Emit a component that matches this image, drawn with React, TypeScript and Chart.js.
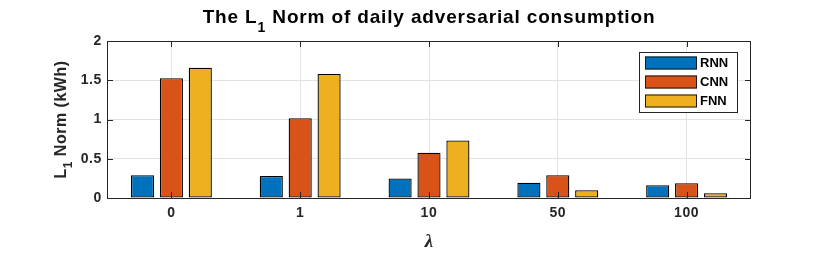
import React, { useEffect, useRef } from "react";
import { Chart, registerables } from "chart.js";

Chart.register(...registerables);

const categories = ["0", "1", "10", "50", "100"];
const seriesNames = ["RNN", "CNN", "FNN"];
const rnnValues = [0.29, 0.28, 0.25, 0.195, 0.162];
const cnnValues = [1.525, 1.015, 0.578, 0.289, 0.187];
const fnnValues = [1.66, 1.58, 0.734, 0.098, 0.06];
const seriesColors = ["#0072BD", "#D95319", "#EDB120"];
const yTickValues = [0, 0.5, 1, 1.5, 2];
const titleParts = ["The L", "1", " Norm of daily adversarial consumption"];
const yLabelParts = ["L", "1", " Norm (kWh)"];
const xLabel = "λ";

const AXIS = "#262626";
const FONT = '"Liberation Sans", Arial, Helvetica, sans-serif';

function drawSubText(
  ctx: CanvasRenderingContext2D,
  parts: string[],
  cx: number,
  baseY: number,
  mainFont: string,
  subFont: string,
  subDrop: number
) {
  ctx.font = mainFont;
  const w0 = ctx.measureText(parts[0]).width;
  const w2 = ctx.measureText(parts[2]).width;
  ctx.font = subFont;
  const w1 = ctx.measureText(parts[1]).width;
  const total = w0 + w1 + w2;
  let x = cx - total / 2;
  ctx.textAlign = "left";
  ctx.textBaseline = "alphabetic";
  ctx.font = mainFont;
  ctx.fillText(parts[0], x, baseY);
  x += w0;
  ctx.font = subFont;
  ctx.fillText(parts[1], x, baseY + subDrop);
  x += w1;
  ctx.font = mainFont;
  ctx.fillText(parts[2], x, baseY);
}

const decorPlugin = {
  id: "matlabDecor",
  beforeDraw(chart: any) {
    (chart.ctx as any).letterSpacing = "0.6px";
  },
  afterDatasetsDraw(chart: any) {
    const { ctx, chartArea } = chart;
    const { left, right, top, bottom } = chartArea;
    const xs = chart.scales.x;
    const ys = chart.scales.y;
    ctx.save();
    ctx.letterSpacing = "0px";
    // frame
    ctx.strokeStyle = AXIS;
    ctx.lineWidth = 1;
    ctx.beginPath();
    ctx.rect(Math.round(left) + 0.5, Math.round(top) + 0.5, Math.round(right - left) - 1, Math.round(bottom - top));
    ctx.stroke();
    // tick marks (inward)
    const tl = 6;
    ctx.beginPath();
    categories.forEach((_, i) => {
      const px = Math.round(xs.getPixelForValue(i)) + 0.5;
      ctx.moveTo(px, bottom);
      ctx.lineTo(px, bottom - tl);
      ctx.moveTo(px, top);
      ctx.lineTo(px, top + tl);
    });
    yTickValues.forEach((v) => {
      const py = Math.round(ys.getPixelForValue(v)) + 0.5;
      ctx.moveTo(left, py);
      ctx.lineTo(left + tl, py);
      ctx.moveTo(right, py);
      ctx.lineTo(right - tl, py);
    });
    ctx.stroke();

    // legend
    const lx = 639.5, ly = 52.5, lw = 98, lh = 60;
    ctx.fillStyle = "#ffffff";
    ctx.fillRect(lx, ly, lw, lh);
    ctx.strokeStyle = AXIS;
    ctx.strokeRect(lx, ly, lw, lh);
    const rowYs = [63, 82, 101];
    chart.data.datasets.forEach((ds: any, i: number) => {
      const cy = rowYs[i];
      ctx.fillStyle = ds.backgroundColor;
      ctx.fillRect(645, cy - 6.5, 52, 13);
      ctx.strokeStyle = "#1a1a1a";
      ctx.strokeRect(645.5, cy - 6, 51, 12);
      ctx.fillStyle = "#000";
      ctx.font = `bold 13px ${FONT}`;
      ctx.textAlign = "left";
      ctx.textBaseline = "middle";
      ctx.fillText(ds.label, 700, cy + 0.5);
    });

    // title
    const cx = (left + right) / 2;
    ctx.fillStyle = "#000";
    ctx.letterSpacing = "0.85px";
    drawSubText(ctx, titleParts, cx, 23, `bold 19px ${FONT}`, `bold 14px ${FONT}`, 9);

    // y label
    ctx.save();
    ctx.letterSpacing = "0.5px";
    ctx.translate(66, (top + bottom) / 2);
    ctx.rotate(-Math.PI / 2);
    ctx.fillStyle = AXIS;
    drawSubText(ctx, yLabelParts, 0, 0, `bold 16px ${FONT}`, `bold 12px ${FONT}`, 6);
    ctx.restore();

    // x label
    ctx.letterSpacing = "0px";
    ctx.fillStyle = AXIS;
    ctx.font = `bold italic 19px "Liberation Serif", "DejaVu Serif", serif`;
    ctx.textAlign = "center";
    ctx.textBaseline = "alphabetic";
    ctx.fillText(xLabel, cx, 247);
    ctx.restore();
  },
};

export default function App() {
  const canvasRef = useRef<HTMLCanvasElement | null>(null);

  useEffect(() => {
    document.body.style.margin = "0";
    const canvas = canvasRef.current;
    if (!canvas) return;
    const values = [rnnValues, cnnValues, fnnValues];
    const chart = new Chart(canvas, {
      type: "bar",
      data: {
        labels: categories,
        datasets: seriesNames.map((name, i) => ({
          label: name,
          data: values[i],
          backgroundColor: seriesColors[i],
          borderColor: "#000000",
          borderWidth: 1.3,
          borderSkipped: false,
          categoryPercentage: 0.673,
          barPercentage: 0.8,
        })),
      },
      options: {
        animation: false,
        responsive: false,
        devicePixelRatio: 1,
        layout: { padding: { top: 41, right: 79, left: 0, bottom: 0 } },
        plugins: {
          legend: { display: false },
          title: { display: false },
          tooltip: { enabled: false },
        },
        scales: {
          x: {
            grid: { display: true, offset: false, color: "#e3e3e3", drawTicks: false },
            border: { display: false },
            ticks: {
              padding: 7,
              color: AXIS,
              font: { family: FONT, size: 14, weight: "bold" },
              maxRotation: 0,
            },
            afterFit: (s: any) => {
              s.height = 55;
            },
          },
          y: {
            min: 0,
            max: 2,
            grid: { color: "#e3e3e3", drawTicks: false },
            border: { display: false },
            ticks: {
              stepSize: 0.5,
              padding: 5,
              color: AXIS,
              font: { family: FONT, size: 14, weight: "bold" },
              callback: (v: any) => String(Number(v)),
            },
            afterFit: (s: any) => {
              s.width = 107;
            },
          },
        },
      },
      plugins: [decorPlugin],
    } as any);
    return () => chart.destroy();
  }, []);

  return (
    <div style={{ position: "absolute", left: 0, top: 0, width: 830, height: 253, background: "#fff" }}>
      <canvas ref={canvasRef} width={830} height={253} />
    </div>
  );
}
